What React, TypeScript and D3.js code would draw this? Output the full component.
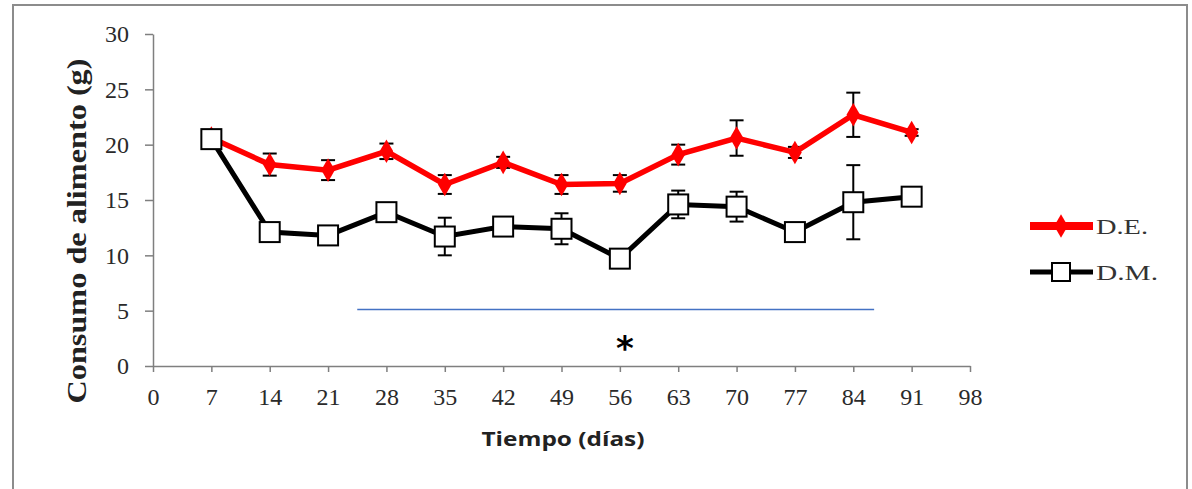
import * as d3 from "d3";
import { useRef, useEffect } from "react";

const days = [7, 14, 21, 28, 35, 42, 49, 56, 63, 70, 77, 84, 91];
const deValues = [20.6, 18.2, 17.7, 19.4, 16.4, 18.4, 16.4, 16.5, 19.1, 20.6, 19.3, 22.7, 21.1];
const deErrors = [0.3, 1.0, 0.9, 0.7, 0.85, 0.5, 0.85, 0.75, 0.9, 1.6, 0.5, 2.0, 0.3];
const dmValues = [20.5, 12.1, 11.8, 13.9, 11.7, 12.6, 12.4, 9.7, 14.6, 14.4, 12.1, 14.8, 15.3];
const dmErrors = [0.3, 0.4, 0.3, 0.4, 1.7, 0.4, 1.4, 0.3, 1.25, 1.35, 0.3, 3.35, 0.3];
const xTicks = [0, 7, 14, 21, 28, 35, 42, 49, 56, 63, 70, 77, 84, 91, 98];
const yTicks = [0, 5, 10, 15, 20, 25, 30];
const seriesNames = ["D.E.", "D.M."];

export default function App() {
  const width = 1192;
  const height = 489;
  const ref = useRef(null);

  useEffect((): void => {
    if (!ref.current) return;
    const svg = d3.select(ref.current);
    svg.selectAll("*").remove();

    const x = d3.scaleLinear().domain([0, 98]).range([153, 970]);
    const y = d3.scaleLinear().domain([0, 30]).range([366, 34]);
    const serif = "'Liberation Serif', 'Times New Roman', serif";

    // outer frame
    svg
      .append("rect")
      .attr("x", 13)
      .attr("y", 5)
      .attr("width", 1174)
      .attr("height", 490)
      .attr("fill", "white")
      .attr("stroke", "#8c8c8c")
      .attr("stroke-width", 2);

    // y axis
    const yAxis = svg
      .append("g")
      .attr("transform", `translate(${x(0)},0)`)
      .call(d3.axisLeft(y).tickValues(yTicks).tickSize(8).tickPadding(16).tickSizeOuter(0));
    yAxis.select(".domain").attr("stroke", "#7f7f7f").attr("stroke-width", 1.5);
    yAxis.selectAll(".tick line").attr("stroke", "#7f7f7f").attr("stroke-width", 1.5);
    yAxis
      .selectAll(".tick text")
      .attr("font-family", serif)
      .attr("font-size", 24)
      .attr("fill", "#2a2a2a");

    // x axis
    const xAxis = svg
      .append("g")
      .attr("transform", `translate(0,${y(0)})`)
      .call(d3.axisBottom(x).tickValues(xTicks).tickSize(6).tickPadding(16).tickSizeOuter(0));
    xAxis.select(".domain").attr("stroke", "#7f7f7f").attr("stroke-width", 1.5);
    xAxis.selectAll(".tick line").attr("stroke", "#7f7f7f").attr("stroke-width", 1.5);
    xAxis
      .selectAll(".tick text")
      .attr("font-family", serif)
      .attr("font-size", 24)
      .attr("fill", "#2a2a2a");

    // axis titles
    svg
      .append("text")
      .attr("transform", `translate(86,231) rotate(-90)`)
      .attr("text-anchor", "middle")
      .attr("font-family", serif)
      .attr("font-weight", "bold")
      .attr("font-size", 27)
      .attr("textLength", 345)
      .attr("lengthAdjust", "spacingAndGlyphs")
      .attr("fill", "#222")
      .text("Consumo de alimento (g)");

    svg
      .append("text")
      .attr("x", 563)
      .attr("y", 446)
      .attr("text-anchor", "middle")
      .attr("font-family", "'Open Sans', sans-serif")
      .attr("font-weight", "bold")
      .attr("font-size", 20)
      .attr("textLength", 163)
      .attr("lengthAdjust", "spacingAndGlyphs")
      .attr("fill", "#222")
      .text("Tiempo (días)");

    // significance line and asterisk
    svg
      .append("line")
      .attr("x1", x(24.5))
      .attr("x2", x(86.5))
      .attr("y1", y(5.1))
      .attr("y2", y(5.1))
      .attr("stroke", "#4472c4")
      .attr("stroke-width", 1.5);
    svg
      .append("text")
      .attr("x", x(56.6))
      .attr("y", y(0.5))
      .attr("text-anchor", "middle")
      .attr("font-family", "'DejaVu Sans', sans-serif")
      .attr("font-weight", "bold")
      .attr("font-size", 34)
      .attr("fill", "#000")
      .text("*");

    const line = d3
      .line<number>()
      .x((_, i) => x(days[i]))
      .y((d) => y(d));

    const drawErrors = (vals: number[], errs: number[], color: string) => {
      const g = svg.append("g").attr("stroke", color).attr("stroke-width", 2);
      days.forEach((d, i) => {
        const cx = x(d);
        const top = y(vals[i] + errs[i]);
        const bot = y(vals[i] - errs[i]);
        g.append("line").attr("x1", cx).attr("x2", cx).attr("y1", top).attr("y2", bot);
        g.append("line").attr("x1", cx - 7).attr("x2", cx + 7).attr("y1", top).attr("y2", top);
        g.append("line").attr("x1", cx - 7).attr("x2", cx + 7).attr("y1", bot).attr("y2", bot);
      });
    };

    const diamond = d3.symbol().type(d3.symbolDiamond).size(160);

    // D.E. series (red)
    drawErrors(deValues, deErrors, "#000");
    svg
      .append("path")
      .datum(deValues)
      .attr("d", line)
      .attr("fill", "none")
      .attr("stroke", "#ff0000")
      .attr("stroke-width", 5.5);
    svg
      .append("g")
      .selectAll("path")
      .data(deValues)
      .join("path")
      .attr("transform", (d, i) => `translate(${x(days[i])},${y(d)})`)
      .attr("d", diamond)
      .attr("fill", "#ff0000");

    // D.M. series (black)
    drawErrors(dmValues, dmErrors, "#000");
    svg
      .append("path")
      .datum(dmValues)
      .attr("d", line)
      .attr("fill", "none")
      .attr("stroke", "#000")
      .attr("stroke-width", 5);
    const sq = 20;
    svg
      .append("g")
      .selectAll("rect")
      .data(dmValues)
      .join("rect")
      .attr("x", (d, i) => x(days[i]) - sq / 2)
      .attr("y", (d) => y(d) - sq / 2)
      .attr("width", sq)
      .attr("height", sq)
      .attr("fill", "white")
      .attr("stroke", "#000")
      .attr("stroke-width", 2);

    // legend
    const legend = svg.append("g");
    const legendY = [226, 272];
    legend
      .append("line")
      .attr("x1", 1030)
      .attr("x2", 1093)
      .attr("y1", legendY[0])
      .attr("y2", legendY[0])
      .attr("stroke", "#ff0000")
      .attr("stroke-width", 8);
    legend
      .append("path")
      .attr("transform", `translate(1061,${legendY[0]})`)
      .attr("d", diamond)
      .attr("fill", "#ff0000");
    legend
      .append("line")
      .attr("x1", 1030)
      .attr("x2", 1093)
      .attr("y1", legendY[1])
      .attr("y2", legendY[1])
      .attr("stroke", "#000")
      .attr("stroke-width", 5);
    legend
      .append("rect")
      .attr("x", 1061 - 9)
      .attr("y", legendY[1] - 9)
      .attr("width", 18)
      .attr("height", 18)
      .attr("fill", "white")
      .attr("stroke", "#000")
      .attr("stroke-width", 2);
    legend
      .selectAll("text")
      .data(seriesNames)
      .join("text")
      .attr("x", 1096)
      .attr("y", (d, i) => legendY[i] + 8)
      .attr("font-family", serif)
      .attr("font-size", 21)
      .attr("textLength", (d, i) => (i === 0 ? 52 : 62))
      .attr("lengthAdjust", "spacingAndGlyphs")
      .attr("fill", "#333")
      .text((d) => d);
  }, []);

  return (
    <svg
      ref={ref}
      width={width}
      height={height}
      style={{ position: "absolute", left: 0, top: 0, display: "block" }}
    />
  );
}
